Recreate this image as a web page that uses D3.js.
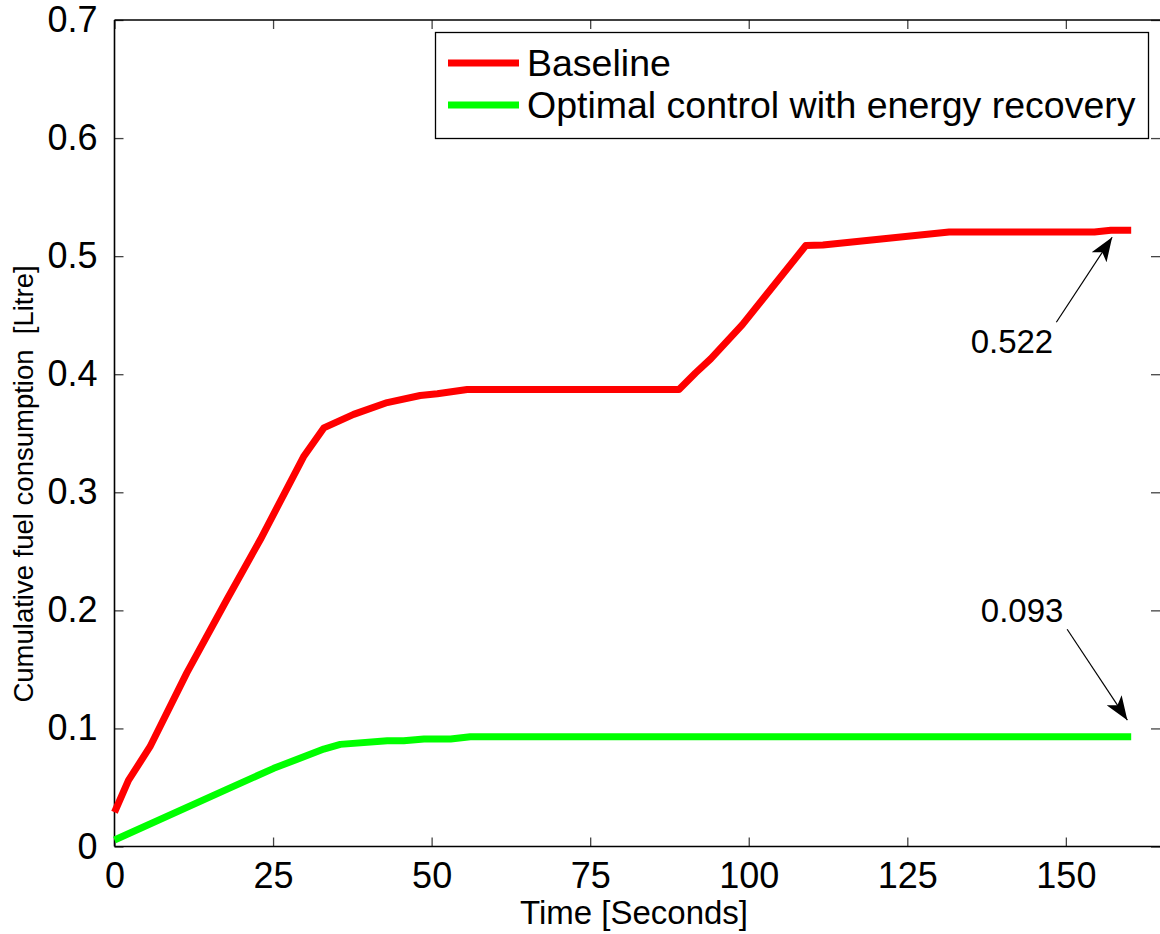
<!DOCTYPE html>
<html>
<head>
<meta charset="utf-8">
<script src="https://cdn.jsdelivr.net/npm/d3@7"></script>
<style>
  html, body { margin: 0; padding: 0; background: #fff; }
  svg { display: block; font-family: "Liberation Sans", Arial, Helvetica, sans-serif; }
</style>
</head>
<body>
<svg id="chart" width="1160" height="934"></svg>
<script>
// Time samples (s) and cumulative fuel use (L) for each strategy
const baselineTime  = [0, 2.2, 5.6, 11.4, 17.7, 23, 29.8, 33, 37.7, 43, 48.2, 50.9, 55.6, 89, 91.6, 94, 99, 109, 111.7, 131.6, 154.5, 157.1, 160.3];
const baselineFuel  = [0.029, 0.056, 0.0845, 0.147, 0.209, 0.26, 0.33, 0.3545, 0.366, 0.376, 0.382, 0.3835, 0.387, 0.387, 0.401, 0.413, 0.442, 0.509, 0.5095, 0.5205, 0.5205, 0.522, 0.522];
const optimalTime   = [0, 17.7, 25.1, 33, 35.6, 43, 45.6, 48.8, 53, 56.1, 160.3];
const optimalFuel   = [0.0055, 0.0484, 0.0662, 0.0825, 0.0865, 0.0895, 0.0895, 0.091, 0.091, 0.093, 0.093];

const seriesNames   = ["Baseline", "Optimal control with energy recovery"];
const seriesColors  = ["#ff0000", "#00ff00"];
const xTickValues   = [0, 25, 50, 75, 100, 125, 150];
const yTickValues   = [0, 0.1, 0.2, 0.3, 0.4, 0.5, 0.6, 0.7];
const yTickLabels   = ["0", "0.1", "0.2", "0.3", "0.4", "0.5", "0.6", "0.7"];

// Final-value callouts: label text, label anchor and arrow tail/tip in data units
const calloutLabels = ["0.522", "0.093"];
const calloutText   = [[141.5, 0.418], [143.1, 0.190]];
const calloutTail   = [[148.5, 0.444], [150.2, 0.184]];
const calloutTip    = [[157.3, 0.516], [159.7, 0.107]];

const svg = d3.select("#chart");
const W = 1160, H = 934;
const plotL = 114.5, plotR = 1161, plotT = 20, plotB = 846.5;

const x = d3.scaleLinear().domain([0, 165]).range([plotL, plotR]);
const y = d3.scaleLinear().domain([0, 0.7]).range([plotB, plotT]);

const tickColor = "#444";
const tickLen = 9;

// Bottom axis with inward ticks
const xAxis = svg.append("g").attr("transform", `translate(0,${plotB})`)
  .call(d3.axisBottom(x).tickValues(xTickValues).tickSizeInner(-tickLen).tickSizeOuter(0).tickPadding(16)
    .tickFormat(d3.format("d")));
xAxis.select(".domain").remove();
xAxis.selectAll(".tick line").attr("stroke", tickColor).attr("stroke-width", 1.3);
xAxis.selectAll(".tick text").attr("font-size", 36).attr("fill", "#000")
  .attr("font-family", "Liberation Sans, Arial, sans-serif");

// Top mirror ticks
const xTop = svg.append("g").attr("transform", `translate(0,${plotT})`)
  .call(d3.axisTop(x).tickValues(xTickValues).tickSizeInner(-tickLen).tickSizeOuter(0).tickFormat(""));
xTop.select(".domain").remove();
xTop.selectAll(".tick line").attr("stroke", tickColor).attr("stroke-width", 1.3);

// Left axis with inward ticks
const yAxis = svg.append("g").attr("transform", `translate(${plotL},0)`)
  .call(d3.axisLeft(y).tickValues(yTickValues).tickSizeInner(-tickLen).tickSizeOuter(0).tickPadding(17)
    .tickFormat((d, i) => yTickLabels[i]));
yAxis.select(".domain").remove();
yAxis.selectAll(".tick line").attr("stroke", tickColor).attr("stroke-width", 1.3);
yAxis.selectAll(".tick text").attr("font-size", 36).attr("fill", "#000")
  .attr("font-family", "Liberation Sans, Arial, sans-serif");

// Right mirror ticks
const yRight = svg.append("g").attr("transform", `translate(${W},0)`)
  .call(d3.axisRight(y).tickValues(yTickValues).tickSizeInner(-tickLen).tickSizeOuter(0).tickFormat(""));
yRight.select(".domain").remove();
yRight.selectAll(".tick line").attr("stroke", tickColor).attr("stroke-width", 1.3);

// Axes box
svg.append("line").attr("x1", plotL).attr("x2", W).attr("y1", plotB).attr("y2", plotB)
  .attr("stroke", "#000").attr("stroke-width", 1.6);
svg.append("line").attr("x1", plotL).attr("x2", W).attr("y1", plotT).attr("y2", plotT)
  .attr("stroke", "#000").attr("stroke-width", 1.6);
svg.append("line").attr("x1", plotL).attr("x2", plotL).attr("y1", plotT).attr("y2", plotB)
  .attr("stroke", "#000").attr("stroke-width", 1.6);

// Curves
const line = d3.line().x(d => x(d[0])).y(d => y(d[1]));
const series = [
  d3.zip(baselineTime, baselineFuel),
  d3.zip(optimalTime, optimalFuel)
];
series.forEach((pts, i) => {
  svg.append("path").datum(pts).attr("d", line)
    .attr("fill", "none").attr("stroke", seriesColors[i])
    .attr("stroke-width", 7).attr("stroke-linejoin", "round").attr("stroke-linecap", "butt");
});

// Axis titles
svg.append("text").attr("x", 634).attr("y", 924).attr("text-anchor", "middle")
  .attr("font-size", 33).attr("fill", "#000").text("Time [Seconds]");
svg.append("text").attr("transform", "translate(33,484) rotate(-90)").attr("text-anchor", "middle")
  .attr("font-size", 27.5).attr("fill", "#000").attr("xml:space", "preserve")
  .text("Cumulative fuel consumption  [Litre]");

// Callouts with arrows
const defs = svg.append("defs");
defs.append("marker").attr("id", "arrowhead").attr("viewBox", "0 0 24 18")
  .attr("refX", 24).attr("refY", 9).attr("markerWidth", 24).attr("markerHeight", 18)
  .attr("markerUnits", "userSpaceOnUse").attr("orient", "auto")
  .append("path").attr("d", "M0,0 L24,9 L0,18 L6,9 Z").attr("fill", "#000");

calloutLabels.forEach((lab, i) => {
  svg.append("line")
    .attr("x1", x(calloutTail[i][0])).attr("y1", y(calloutTail[i][1]))
    .attr("x2", x(calloutTip[i][0])).attr("y2", y(calloutTip[i][1]))
    .attr("stroke", "#000").attr("stroke-width", 1.2).attr("marker-end", "url(#arrowhead)");
  svg.append("text").attr("x", x(calloutText[i][0])).attr("y", y(calloutText[i][1]))
    .attr("text-anchor", "middle").attr("font-size", 33).attr("fill", "#000").text(lab);
});

// Legend
const lg = svg.append("g");
lg.append("rect").attr("x", 435.5).attr("y", 32.5).attr("width", 713).attr("height", 106)
  .attr("fill", "#fff").attr("stroke", "#000").attr("stroke-width", 1.3);
seriesNames.forEach((name, i) => {
  const cy = 63 + i * 42;
  lg.append("line").attr("x1", 448).attr("x2", 519).attr("y1", cy).attr("y2", cy)
    .attr("stroke", seriesColors[i]).attr("stroke-width", 7);
  lg.append("text").attr("x", 527).attr("y", cy + 13).attr("font-size", 37.5).attr("fill", "#000").text(name);
});
</script>
</body>
</html>
